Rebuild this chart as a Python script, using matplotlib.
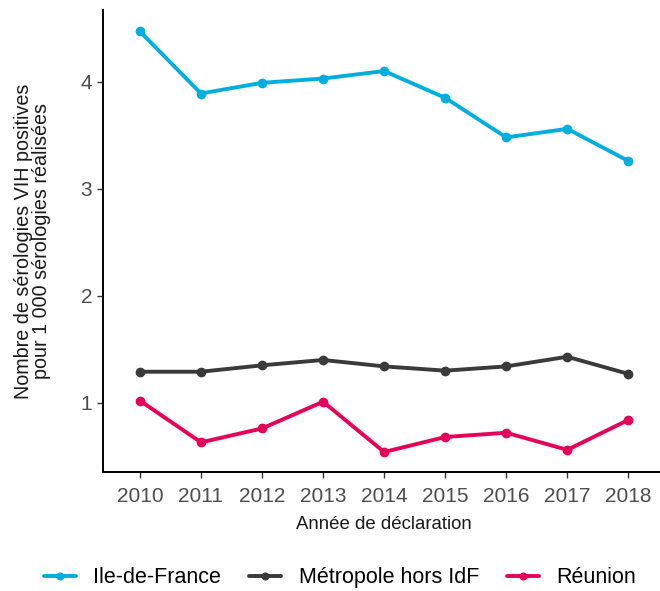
import matplotlib
matplotlib.use('Agg')
import matplotlib.pyplot as plt

plt.rcParams['font.family'] = ['Liberation Sans', 'DejaVu Sans']

# Données
annees = [2010, 2011, 2012, 2013, 2014, 2015, 2016, 2017, 2018]
idf = [4.47, 3.89, 3.99, 4.03, 4.10, 3.85, 3.48, 3.56, 3.26]
metropole = [1.29, 1.29, 1.35, 1.40, 1.34, 1.30, 1.34, 1.43, 1.27]
reunion = [1.02, 0.63, 0.76, 1.01, 0.54, 0.68, 0.72, 0.56, 0.84]

series = ['Ile-de-France', 'Métropole hors IdF', 'Réunion']
couleurs = ['#00AEDE', '#3A3A3A', '#E5005A']

fig = plt.figure(figsize=(6.6, 5.91), dpi=100)
ax = fig.add_axes([0.1565, 0.2008, 0.851, 0.7822])

for nom, valeurs, c in zip(series, [idf, metropole, reunion], couleurs):
    ax.plot(annees, valeurs, color=c, lw=2.8, marker='o', markersize=6,
            label=nom, solid_capstyle='round')

ax.set_xlim(2009.4, 2018.6)
ax.set_ylim(0.35, 4.67)
ax.set_xticks(annees)
ax.set_yticks([1, 2, 3, 4])

for s in ['top', 'right']:
    ax.spines[s].set_visible(False)
for s in ['left', 'bottom']:
    ax.spines[s].set_linewidth(1.4)
    ax.spines[s].set_color('black')

ax.tick_params(axis='both', length=4.5, width=1, color='#333333',
               labelsize=15, labelcolor='#4D4D4D', pad=3.5)
ax.tick_params(axis='x', pad=6)

ax.set_xlabel('Année de déclaration', fontsize=13.4, color='#1A1A1A', labelpad=7)
ax.set_ylabel('Nombre de sérologies VIH positives\npour 1 000 sérologies réalisées',
              fontsize=14.2, color='#1A1A1A', labelpad=21, linespacing=0.95)

fig.legend(loc='center', bbox_to_anchor=(0.515, 0.022), ncol=3, frameon=False,
           fontsize=15.5, handlelength=1.5, handletextpad=0.8, columnspacing=1.3,
           markerscale=0.8, borderpad=0.2)

fig.savefig('out.png', dpi=100)
